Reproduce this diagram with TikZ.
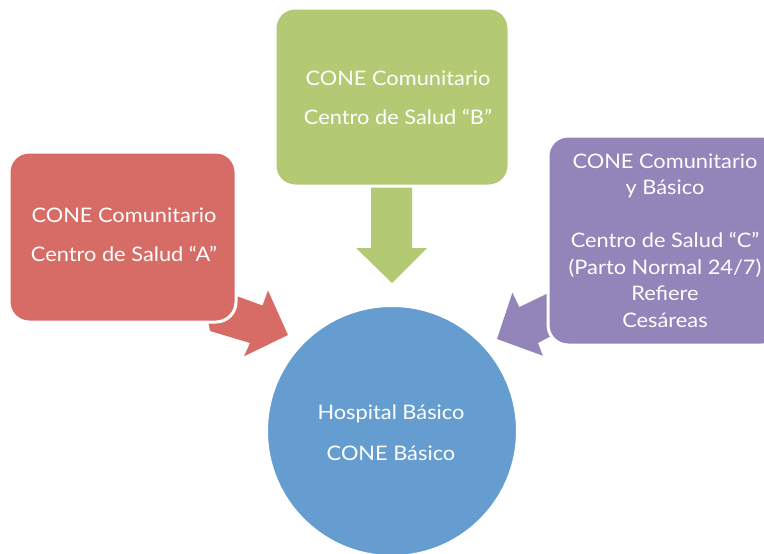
\documentclass[tikz,border=0pt]{standalone}
\usepackage{fontspec}
\setmainfont{Lato}[FakeStretch=1.09]
\definecolor{cred}{RGB}{215,108,102}
\definecolor{cgreen}{RGB}{179,201,116}
\definecolor{cpurple}{RGB}{147,132,185}
\definecolor{cblue}{RGB}{101,157,208}
\begin{document}
\begin{tikzpicture}[x=1pt,y=-1pt,
  box/.style={rounded corners=20pt, draw=white, line width=3pt, inner sep=0pt, text=white, align=center, font=\fontsize{20}{26.5}\selectfont},
  lbl/.style={text=white, align=center, font=\fontsize{20}{26.5}\selectfont, inner sep=0pt}]
\useasboundingbox (0,0) rectangle (764,554);
\clip (0,0) rectangle (764,554);
% block arrows (drawn first, tails hidden under boxes)
\fill[cgreen] (371,170) -- (412,170) -- (412,248) -- (427,248) -- (392,283) -- (356,248) -- (371,248) -- cycle;
\fill[cred] (210,331) -- (250,343) -- (244.0,356.3) -- (288,335) -- (268.0,290.5) -- (262.5,305.5) -- (200.5,282.9) -- cycle;
\fill[cpurple] (595.3,312.6) -- (538,343) -- (542.8,355.7) -- (497,339) -- (512.4,292.7) -- (519.3,307.1) -- (578.7,278.4) -- cycle;
% boxes
\node[box, fill=cred, minimum width=227pt, minimum height=170pt] (a) at (122.5,237) {};
\node[lbl] (ta) at (124,235) {CONE Comunitario\\[12pt]Centro de Salud “A”};
\node[box, fill=cgreen, minimum width=234pt, minimum height=178pt] (b) at (392,97) {};
\node[lbl] (tb) at (398,98) {CONE Comunitario\\[12pt]Centro de Salud “B”};
\node[box, fill=cpurple, minimum width=234pt, minimum height=209pt] (c) at (665,240.5) {CONE Comunitario\\y Básico\\[26.5pt]Centro de Salud “C”\\(Parto Normal 24/7)\\Refiere\\Cesáreas};
% hospital
\node[circle, draw=white, line width=2pt, fill=cblue, minimum size=250pt, inner sep=0pt] (h) at (392,431) {};
\node[lbl] (th) at (391,432.5) {Hospital Básico\\[14pt]CONE Básico};
\end{tikzpicture}
\end{document}
